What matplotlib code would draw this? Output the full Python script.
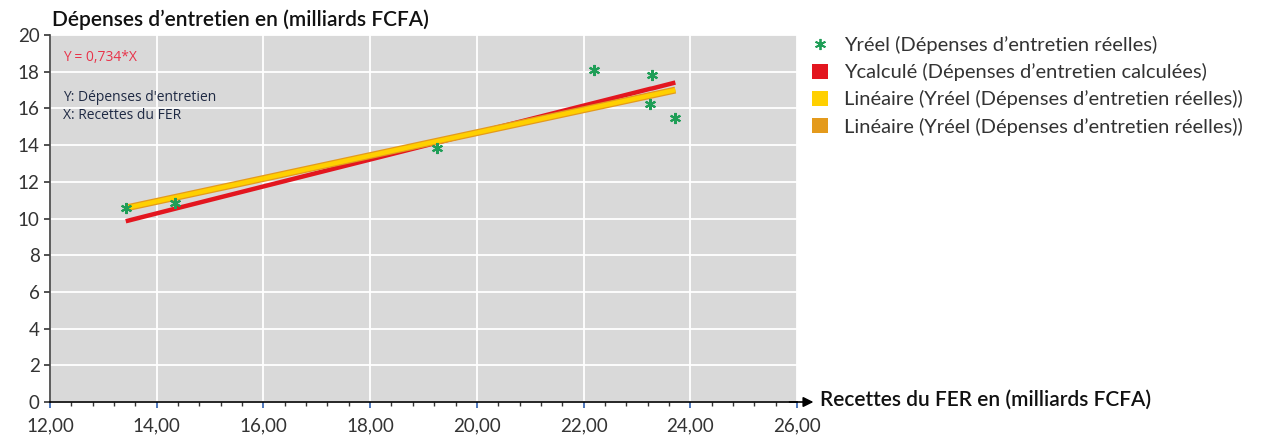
import matplotlib
matplotlib.use("Agg")
import matplotlib.pyplot as plt
from matplotlib.ticker import MultipleLocator, FuncFormatter
from matplotlib.lines import Line2D
from matplotlib.patches import Patch

# Data
x_recettes = [13.42, 14.34, 19.25, 22.19, 23.29, 23.25, 23.72]
y_reel = [10.57, 10.84, 13.84, 18.09, 17.82, 16.24, 15.48]
x_calc = [13.42, 14.34, 19.25, 22.19, 23.25, 23.29, 23.72]
y_calc = [9.85, 10.53, 14.13, 16.29, 17.07, 17.09, 17.41]
trend_x = [13.42, 23.72]
trend_y = [10.57, 17.00]

legend_labels = [
    "Yréel (Dépenses d\u2019entretien réelles)",
    "Ycalculé (Dépenses d\u2019entretien calculées)",
    "Linéaire (Yréel (Dépenses d\u2019entretien réelles))",
    "Linéaire (Yréel (Dépenses d\u2019entretien réelles))",
]
y_title = "Dépenses d\u2019entretien en (milliards FCFA)"
x_title = "Recettes du FER en (milliards FCFA)"

GREEN = "#1f9e57"
RED = "#e3161f"
YELLOW = "#ffd000"
ORANGE = "#e49a1c"

plt.rcParams['font.family'] = ['Lato', 'DejaVu Sans']

fig = plt.figure(figsize=(12.68, 4.37), dpi=100)
ax = fig.add_axes([50/1268, 35/437, 747/1268, 367/437])
ax.set_facecolor("#d9d9d9")

ax.set_xlim(12, 26)
ax.set_ylim(0, 20)
ax.xaxis.set_major_locator(MultipleLocator(2))
ax.xaxis.set_minor_locator(MultipleLocator(0.4))
ax.yaxis.set_major_locator(MultipleLocator(2))
ax.xaxis.set_major_formatter(FuncFormatter(lambda v, p: f"{v:.2f}".replace(".", ",")))
ax.grid(True, which="major", color="white", linewidth=1.3)
ax.set_axisbelow(True)

for s in ["top", "right"]:
    ax.spines[s].set_visible(False)
ax.spines["left"].set_color("#404040")
ax.spines["left"].set_linewidth(1.2)
ax.spines["bottom"].set_color("black")
ax.spines["bottom"].set_linewidth(1.2)

ax.tick_params(axis="both", which="major", direction="out", length=4, width=1.2,
               colors="#333333", labelsize=13.5, labelcolor="#333333")
ax.tick_params(axis="x", which="major", color="#3060b0", pad=7)
ax.tick_params(axis="x", which="minor", direction="out", length=3, width=1, color="#333333")

# trendlines (orange under yellow)
ax.plot(trend_x, trend_y, color=ORANGE, linewidth=5.0, solid_capstyle="butt", zorder=3)
ax.plot(trend_x, trend_y, color=YELLOW, linewidth=3.2, solid_capstyle="butt", zorder=4)
# calculated
ax.plot(x_calc, y_calc, color=RED, linewidth=3.2, solid_capstyle="butt", zorder=2.5)
# real points
ax.plot(x_recettes, y_reel, linestyle="none", marker=(6, 2, 0), markersize=8,
        markeredgewidth=1.5, color=GREEN, zorder=5)

# arrow on x-axis
ax.annotate("", xy=(1.022, 0), xytext=(0.99, 0), xycoords="axes fraction",
            arrowprops=dict(arrowstyle="-|>,head_length=0.6,head_width=0.3",
                            color="black", lw=1.2, shrinkA=0, shrinkB=0),
            annotation_clip=False)

# Annotations in plot
ax.text(12.25, 18.8, "Y = 0,734*X", color="#e8334a", fontsize=10,
        family=["Open Sans", "DejaVu Sans"], va="center")
ax.text(12.25, 16.6, "Y: Dépenses d'entretien", color="#1f2a44", fontsize=10,
        family=["Open Sans", "DejaVu Sans"], va="center")
ax.text(12.25, 15.6, "X: Recettes du FER", color="#1f2a44", fontsize=10,
        family=["Open Sans", "DejaVu Sans"], va="center")

# titles
fig.text(52/1268, 1 - 20/437, y_title, fontsize=15, fontweight="semibold",
         color="#111111", va="center", ha="left")
fig.text(820/1268, 1 - 400/437, x_title, fontsize=15, fontweight="semibold",
         color="#111111", va="center", ha="left")

# legend
handles = [
    Line2D([0], [0], linestyle="none", marker=(6, 2, 0), markersize=8,
           markeredgewidth=1.3, color=GREEN),
    Patch(facecolor=RED, edgecolor="none"),
    Patch(facecolor=YELLOW, edgecolor="none"),
    Patch(facecolor=ORANGE, edgecolor="none"),
]
leg = fig.legend(handles, legend_labels, loc="upper left",
                 bbox_to_anchor=(794/1268, 1 - 18/437), frameon=False,
                 fontsize=14.5, handlelength=0.8, handleheight=0.8,
                 handletextpad=0.8, labelspacing=0.45, labelcolor="#333333")

fig.savefig("out.png", dpi=100)
